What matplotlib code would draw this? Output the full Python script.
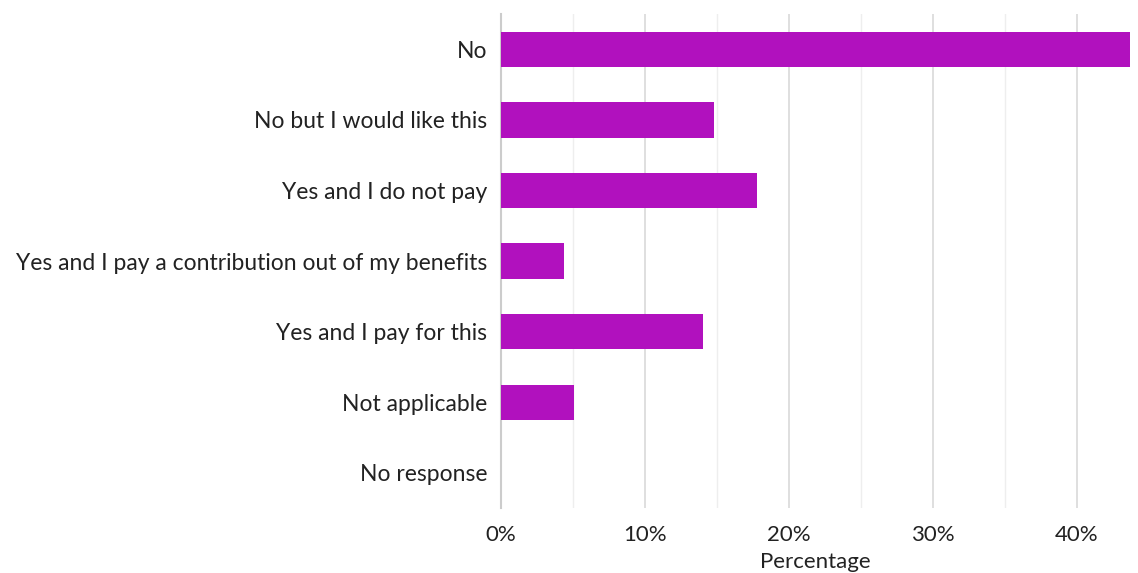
import matplotlib
matplotlib.use("Agg")
import matplotlib.pyplot as plt
from matplotlib.ticker import MultipleLocator, FuncFormatter

categories = ["No", "No but I would like this", "Yes and I do not pay",
              "Yes and I pay a contribution out of my benefits",
              "Yes and I pay for this", "Not applicable", "No response"]
values = [43.7, 14.8, 17.8, 4.4, 14.0, 5.1, 0.0]
x_ticks = [0, 10, 20, 30, 40]

plt.rcParams['font.family'] = ['Lato', 'DejaVu Sans']

fig = plt.figure(figsize=(11.38, 5.73), dpi=100)
ax = fig.add_axes([501/1138, 1-508/573, (1130-501)/1138, (508-14)/573])

ypos = list(range(len(categories)))
ax.barh(ypos, values, height=0.5, color="#B111BE", zorder=3)
ax.set_yticks(ypos)
ax.set_yticklabels(categories, fontsize=16.5, color="#222222")
ax.set_ylim(6.5, -0.5)
ax.set_xlim(0, 43.7)
ax.set_xticks(x_ticks)
ax.xaxis.set_major_formatter(FuncFormatter(lambda v, p: f"{v:.0f}%"))
ax.xaxis.set_minor_locator(MultipleLocator(5))
ax.tick_params(axis='x', labelsize=16, colors="#222222", length=0, pad=12, which='both')
ax.tick_params(axis='y', length=0, pad=10)
ax.grid(axis='x', which='major', color="#d9d9d9", linewidth=1.2, zorder=0)
ax.grid(axis='x', which='minor', color="#eeeeee", linewidth=1.0, zorder=0)
for s in ["top", "right", "bottom"]:
    ax.spines[s].set_visible(False)
ax.spines["left"].set_color("#cccccc")
ax.spines["left"].set_linewidth(1.5)
ax.set_xlabel("Percentage", fontsize=16, color="#222222", labelpad=5)

fig.savefig("out.png", dpi=100)
